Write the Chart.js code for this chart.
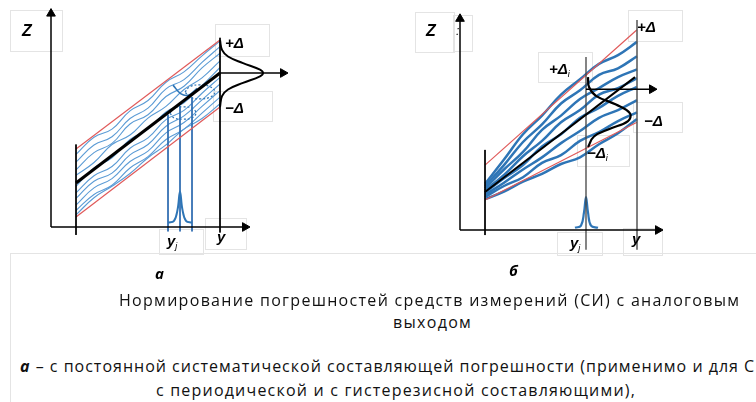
<!DOCTYPE html>
<html>
<head>
<meta charset="utf-8">
<script src="https://cdn.jsdelivr.net/npm/chart.js@4"></script>
<style>
  body { margin: 0; background: #fff; }
  #wrap { position: relative; width: 756px; height: 402px; overflow: hidden; background: #fff; }
  .pane { position: absolute; top: 0; }
  .box { position: absolute; border: 1px solid #e4e4e4; box-sizing: border-box; }
  .lbl { position: absolute; font-family: "Liberation Sans", Arial, sans-serif; font-weight: bold; font-style: italic; font-size: 15px; line-height: 15px; color: #000; white-space: nowrap; }
  .lbl sub { font-size: 9px; vertical-align: -3px; font-weight: normal; }
  .cap { position: absolute; font-family: "Open Sans", sans-serif; font-size: 16px; line-height: 18px; color: #111; white-space: nowrap; letter-spacing: 1.3px; }
  .cap b { font-style: italic; }
</style>
</head>
<body>
<div id="wrap">
  <div class="box" style="left:10px;top:253px;width:760px;height:160px"></div>

  <!-- рамки подписей, левая схема -->
  <div class="box" style="left:10px;top:10px;width:53px;height:42px"></div>
  <div class="box" style="left:215px;top:24px;width:55px;height:33px"></div>
  <div class="box" style="left:213px;top:91px;width:60px;height:31px"></div>
  <div class="box" style="left:159px;top:229px;width:45px;height:26px"></div>
  <div class="box" style="left:205px;top:218px;width:42px;height:32px"></div>

  <!-- рамки подписей, правая схема -->
  <div class="box" style="left:415px;top:12px;width:40px;height:41px"></div>
  <div class="box" style="left:453px;top:15px;width:20px;height:37px"></div>
  <div class="box" style="left:628px;top:10px;width:55px;height:32px"></div>
  <div class="box" style="left:538px;top:52px;width:55px;height:31px"></div>
  <div class="box" style="left:633px;top:102px;width:50px;height:31px"></div>
  <div class="box" style="left:577px;top:135px;width:53px;height:32px"></div>
  <div class="box" style="left:557px;top:232px;width:46px;height:24px"></div>
  <div class="box" style="left:623px;top:228px;width:40px;height:28px"></div>

  <div class="pane" style="left:0;width:300px;height:280px"><canvas id="chartA" width="300" height="280"></canvas></div>
  <div class="pane" style="left:400px;width:356px;height:280px"><canvas id="chartB" width="356" height="280"></canvas></div>

  <div class="lbl" style="left:22px;top:23px;font-size:16px">Z</div>
  <div class="lbl" style="left:225px;top:35px">+Δ</div>
  <div class="lbl" style="left:225px;top:100px">−Δ</div>
  <div class="lbl" style="left:167px;top:233px">y<sub>j</sub></div>
  <div class="lbl" style="left:217px;top:229px">y</div>

  <div class="lbl" style="left:426px;top:23px;font-size:16px">Z</div>
  <div class="lbl" style="left:456px;top:24px;font-weight:normal;font-size:12px">:</div>
  <div class="lbl" style="left:637px;top:19px">+Δ</div>
  <div class="lbl" style="left:549px;top:61px">+Δ<sub>i</sub></div>
  <div class="lbl" style="left:644px;top:113px">−Δ</div>
  <div class="lbl" style="left:587px;top:145px">−Δ<sub>i</sub></div>
  <div class="lbl" style="left:570px;top:235px">y<sub>j</sub></div>
  <div class="lbl" style="left:632px;top:231px">y</div>

  <div class="lbl" style="left:155px;top:266px;font-family:'Open Sans',sans-serif">а</div>
  <div class="lbl" style="left:509px;top:263px;font-family:'Open Sans',sans-serif">б</div>

  <div class="cap" style="left:119px;top:291px">Нормирование погрешностей средств измерений (СИ) с аналоговым</div>
  <div class="cap" style="left:393px;top:313px">выходом</div>
  <div class="cap" style="left:20px;top:357px;letter-spacing:1px"><b>а</b> – с постоянной систематической составляющей погрешности (применимо и для СИ</div>
  <div class="cap" style="left:156px;top:381px;letter-spacing:1.2px">с периодической и с гистерезисной составляющими),</div>
</div>

<script>
// ---- левая схема (а) ----
const aX = [1.25, 2.15, 3.05, 3.95, 4.85, 5.75, 6.65, 7.55, 8.45];
const aWave1 = [3.3, 4.08, 4.45, 5.28, 5.75, 6.58, 7.05, 7.78, 8.45];
const aWave2 = [2.95, 3.73, 4.1, 4.93, 5.4, 6.28, 6.7, 7.48, 8.2];
const aWave3 = [2.6, 3.38, 3.8, 4.68, 5.1, 5.93, 6.4, 7.23, 7.9];
const aWave4 = [2.35, 2.93, 3.75, 4.18, 4.95, 5.48, 6.25, 6.78, 7.55];
const aWave5 = [1.85, 2.68, 3.15, 3.98, 4.45, 5.23, 5.65, 6.43, 7.25];
const aWave6 = [1.55, 2.33, 2.75, 3.58, 4.05, 4.88, 5.3, 6.08, 6.8];
const aWave7 = [1.3, 2.08, 2.45, 3.28, 3.75, 4.58, 5.05, 5.78, 6.5];
const aWave8 = [1.0, 1.78, 2.2, 2.98, 3.45, 4.28, 4.75, 5.48, 6.2];
const aWave9 = [0.75, 1.48, 1.9, 2.68, 3.2, 3.98, 4.45, 5.18, 5.9];
const aWave10 = [0.55, 1.33, 1.85, 2.43, 3.15, 3.73, 4.45, 4.93, 5.6];
const aLimitX = [1.25, 8.45];
const aUpper = [3.55, 8.5];
const aLower = [0.45, 5.45];
const aMean = [2.0, 7.0];
const aDistX = [8.45, 8.55, 8.85, 9.6, 10.45, 10.6, 10.45, 9.6, 8.85, 8.55, 8.45];
const aDistZ = [8.5, 8.05, 7.75, 7.45, 7.15, 7.0, 6.85, 6.55, 6.25, 5.95, 5.45];
const aPeakX = [5.85, 6.15, 6.33, 6.45, 6.57, 6.75, 7.05];
const aPeakZ = [0.2, 0.28, 0.8, 1.6, 0.8, 0.28, 0.2];
const aEll1X = [6.7, 6.95, 7.45, 7.95, 8.2, 7.95, 7.45, 6.95, 6.7];
const aEll1Z = [6.14, 6.38, 6.46, 6.38, 6.14, 5.9, 5.82, 5.9, 6.14];
const aEll2X = [5.95, 6.15, 6.6, 7.05, 7.25, 7.05, 6.6, 6.15, 5.95];
const aEll2Z = [5.18, 5.4, 5.46, 5.4, 5.18, 4.96, 4.9, 4.96, 5.18];
const aArcX = [6.1, 6.5, 6.9, 7.3];
const aArcZ = [6.45, 6.05, 6.0, 6.3];
const aJx = [5.85, 6.45, 7.05];
const aJtop = [5.1, 5.5, 5.9];

// ---- правая схема (б) ----
const bX = [1.25, 2.2, 3.15, 4.1, 5.05, 6.0, 6.95, 7.9, 8.85];
const bWave1 = [2.1, 3.2, 4.35, 5.2, 6.15, 6.85, 7.55, 7.95, 8.55];
const bWave2 = [2.0, 2.95, 4.0, 4.8, 5.75, 6.35, 7.05, 7.35, 7.9];
const bWave3 = [1.9, 2.75, 3.55, 4.55, 5.2, 5.95, 6.45, 6.95, 7.3];
const bWave4 = [1.8, 2.5, 3.35, 4.05, 4.9, 5.45, 6.15, 6.45, 6.9];
const bWave5 = [1.7, 2.35, 2.95, 3.8, 4.35, 5.1, 5.55, 6.1, 6.5];
const bWave6 = [1.6, 2.15, 2.75, 3.3, 3.95, 4.5, 5.1, 5.45, 5.9];
const bWave7 = [1.5, 2.0, 2.4, 3.05, 3.4, 4.05, 4.45, 4.95, 5.35];
const bWave8 = [1.4, 1.75, 2.2, 2.55, 3.0, 3.3, 3.9, 4.4, 5.05];
const bLimitX = [1.25, 8.85];
const bUpper = [2.95, 9.1];
const bLower = [1.36, 4.9];
const bMeanX = [1.25, 8.75];
const bMean = [1.73, 6.95];
const bDistX = [6.4, 6.45, 6.8, 7.8, 8.5, 8.4, 7.5, 6.7, 6.4];
const bDistZ = [6.95, 6.5, 6.1, 5.7, 5.3, 4.95, 4.6, 4.25, 3.77];
const bPeakX = [5.75, 6.05, 6.2, 6.3, 6.4, 6.55, 6.9];
const bPeakZ = [0.1, 0.2, 0.8, 1.5, 0.8, 0.2, 0.1];

function pts(xs, zs) {
    return xs.map((x, i) => ({ x: x, y: zs[i] }));
}

function line(xs, zs, color, width, more) {
    return Object.assign({
        data: pts(xs, zs),
        showLine: true,
        borderColor: color,
        borderWidth: width,
        pointRadius: 0,
        tension: 0,
        clip: false
    }, more || {});
}

// наконечник стрелки — треугольный маркер
function arrow(x, z, rot) {
    return {
        data: [{ x: x, y: z }],
        pointStyle: 'triangle',
        rotation: rot,
        pointRadius: 5,
        backgroundColor: '#000',
        borderColor: '#000',
        borderWidth: 1,
        showLine: false,
        clip: false
    };
}

function makeChart(id, pad, datasets) {
    new Chart(document.getElementById(id), {
        type: 'scatter',
        data: { datasets: datasets },
        options: {
            responsive: false,
            animation: false,
            devicePixelRatio: 1,
            layout: { padding: pad },
            plugins: { legend: { display: false }, tooltip: { enabled: false } },
            scales: {
                x: { type: 'linear', min: -2, max: 12, display: false },
                y: { type: 'linear', min: -2, max: 10, display: false }
            }
        }
    });
}

const lightBlue = '#5b9bd5';
const deepBlue = '#2e75b6';
const red = '#e05a5a';

const aWaves = [aWave1, aWave2, aWave3, aWave4, aWave5, aWave6, aWave7, aWave8, aWave9, aWave10];
const aSets = [
    line([0, 0], [0, 9.6], '#000', 1.5),
    arrow(0, 9.7, 0),
    line([0, 9.6], [0, 0], '#000', 1.5),
    arrow(9.7, 0, 90),
    line(aLimitX, aMean, '#000', 3),
    line([8.45, 11.6], [7.0, 7.0], '#000', 1.5),
    arrow(11.6, 7.0, 90),
    line(aDistX, aDistZ, '#000', 2, { tension: 0.4 }),
    line([1.25, 1.25], [3.75, -0.36], '#000', 1),
    line([8.45, 8.45], [8.6, -0.25], '#000', 1),
    line(aLimitX, aUpper, red, 1.2),
    line(aLimitX, aLower, red, 1.2),
    line(aPeakX, aPeakZ, deepBlue, 2, { tension: 0.4 }),
    line(aEll1X, aEll1Z, deepBlue, 1.2, { tension: 0.4, borderDash: [2, 2] }),
    line(aEll2X, aEll2Z, deepBlue, 1.2, { tension: 0.4, borderDash: [2, 2] }),
    line(aArcX, aArcZ, deepBlue, 1.6, { tension: 0.4 })
];
aJx.forEach((x, i) => aSets.push(line([x, x], [aJtop[i], -0.2], '#2f6db0', 1)));
aWaves.forEach(w => aSets.push(line(aX, w, lightBlue, 1.1, { tension: 0.45 })));

const bWaves = [bWave1, bWave2, bWave3, bWave4, bWave5, bWave6, bWave7, bWave8];
const bSets = [
    line([0, 0], [0, 9.5], '#000', 1.5),
    arrow(0, 9.6, 0),
    line([0, 9.9], [0, 0], '#000', 1.5),
    arrow(9.9, 0, 90),
    line(bDistX, bDistZ, '#000', 2.2, { tension: 0.4 }),
    line([6.3, 9.6], [6.4, 6.4], '#000', 1.5),
    arrow(9.6, 6.4, 90),
    line(bMeanX, bMean, '#000', 2),
    line([1.25, 1.25], [3.64, -0.23], '#000', 1),
    line([8.85, 8.85], [9.55, -0.9], '#555', 1.5),
    line([6.3, 6.3], [7.86, -0.9], '#444', 1.3),
    line(bLimitX, bUpper, red, 1.2),
    line(bLimitX, bLower, red, 1.2),
    line(bPeakX, bPeakZ, deepBlue, 2.2, { tension: 0.4 })
];
bWaves.forEach(w => bSets.push(line(bX, w, deepBlue, 2.5, { tension: 0.4 })));

makeChart('chartA', { left: 11, right: 9, top: 7, bottom: 9 }, aSets);
makeChart('chartB', { left: 20, right: 56, top: 10, bottom: 6 }, bSets);
</script>
</body>
</html>
